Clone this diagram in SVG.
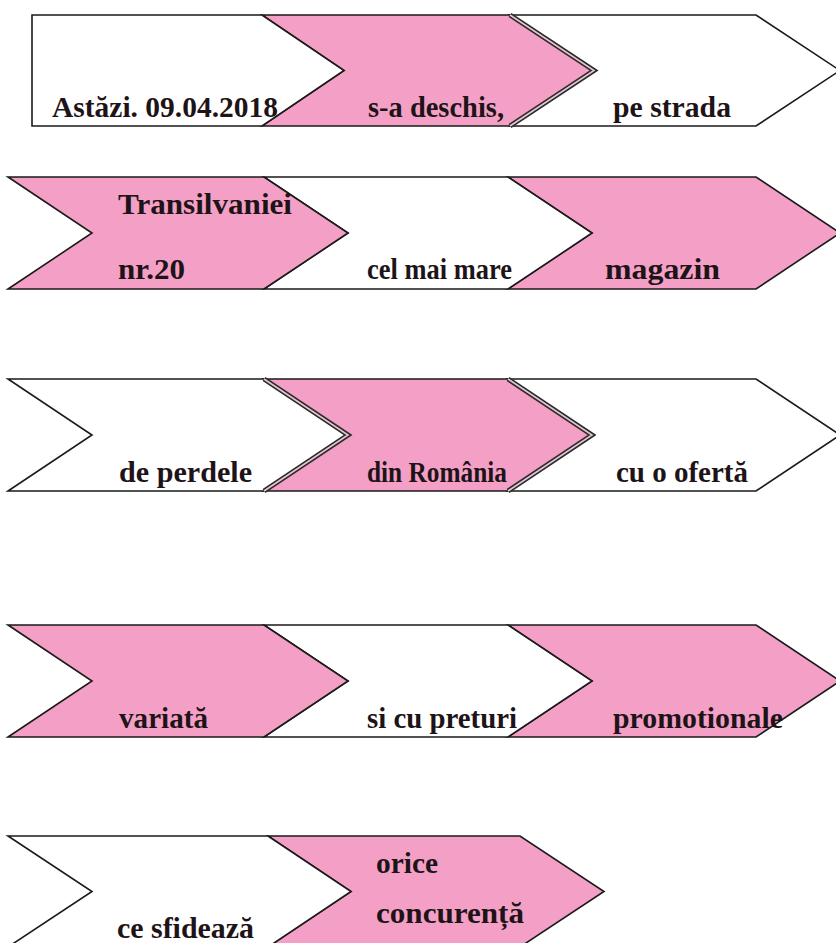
<svg xmlns="http://www.w3.org/2000/svg" width="836" height="943" viewBox="0 0 836 943">
<style>
.w{fill:#ffffff;stroke:#1a1a1a;stroke-width:1.6;stroke-linejoin:miter}
.p{fill:#F4A0C6;stroke:#1a1a1a;stroke-width:1.6;stroke-linejoin:miter}
.dbl{fill:none;stroke:#2a2a2a;stroke-width:5}
.dbl2{fill:none;stroke:#e6c6d4;stroke-width:1.6}
text{font-family:"Liberation Serif","Times New Roman",serif;font-weight:bold;font-size:30px;fill:#1e1418}
</style>
<rect width="836" height="943" fill="#ffffff"/>
<g id="connectors"/>
<!-- Row 1 -->
<g id="r1c3"><polygon class="w" points="510,15 756,15 840,70.5 756,126 510,126 594,70.5"/><text x="613" y="117" textLength="118" lengthAdjust="spacingAndGlyphs">pe strada</text></g>
<g id="r1c2"><polygon class="p" points="262,15 510,15 594,70.5 510,126 262,126 344,70.5"/><polyline class="dbl" points="510,15 594,70.5 510,126"/><polyline class="dbl2" points="510,15 594,70.5 510,126"/><text x="368" y="117" textLength="136" lengthAdjust="spacingAndGlyphs">s-a deschis,</text></g>
<g id="r1c1"><polygon class="w" points="32,15 262,15 344,70.5 262,126 32,126"/><text x="52" y="117" textLength="226" lengthAdjust="spacingAndGlyphs">Astăzi. 09.04.2018</text></g>
<!-- Row 2 -->
<g id="r2c3"><polygon class="p" points="508,177 756,177 840,233 756,289 508,289 592,233"/><text x="605" y="279" textLength="115" lengthAdjust="spacingAndGlyphs">magazin</text></g>
<g id="r2c2"><polygon class="w" points="264,177 508,177 592,233 508,289 264,289 348,233"/><text x="367" y="279" textLength="145" lengthAdjust="spacingAndGlyphs">cel mai mare</text></g>
<g id="r2c1"><polygon class="p" points="8,177 264,177 348,233 264,289 8,289 92,233"/><text x="118" y="214" textLength="174" lengthAdjust="spacingAndGlyphs">Transilvaniei</text><text x="118" y="279" textLength="67" lengthAdjust="spacingAndGlyphs">nr.20</text></g>
<!-- Row 3 -->
<g id="r3c3"><polygon class="w" points="508,379 756,379 840,435 756,491 508,491 592,435"/><text x="616" y="482" textLength="132" lengthAdjust="spacingAndGlyphs">cu o ofertă</text></g>
<g id="r3c1"><polygon class="w" points="8,379 264,379 348,435 264,491 8,491 92,435"/><text x="119" y="482" textLength="133" lengthAdjust="spacingAndGlyphs">de perdele</text></g>
<g id="r3c2"><polygon class="p" points="264,379 508,379 592,435 508,491 264,491 348,435"/><polyline class="dbl" points="264,379 348,435 264,491"/><polyline class="dbl2" points="264,379 348,435 264,491"/><polyline class="dbl" points="508,379 592,435 508,491"/><polyline class="dbl2" points="508,379 592,435 508,491"/><text x="367" y="482" textLength="140" lengthAdjust="spacingAndGlyphs">din România</text></g>
<!-- Row 4 -->
<g id="r4c3"><polygon class="p" points="508,625 756,625 840,681 756,737 508,737 592,681"/><text x="613" y="728" textLength="170" lengthAdjust="spacingAndGlyphs">promotionale</text></g>
<g id="r4c2"><polygon class="w" points="264,625 508,625 592,681 508,737 264,737 348,681"/><text x="367" y="728" textLength="150" lengthAdjust="spacingAndGlyphs">si cu preturi</text></g>
<g id="r4c1"><polygon class="p" points="8,625 264,625 348,681 264,737 8,737 92,681"/><text x="119" y="728" textLength="89" lengthAdjust="spacingAndGlyphs">variată</text></g>
<!-- Row 5 -->
<g id="r5c2"><polygon class="p" points="268,836 520,836 604,891.5 520,947 268,947 351,891.5"/><text x="376" y="873" textLength="62" lengthAdjust="spacingAndGlyphs">orice</text><text x="376" y="923" textLength="148" lengthAdjust="spacingAndGlyphs">concurență</text></g>
<g id="r5c1"><polygon class="w" points="8,836 268,836 351,891.5 268,947 8,947 92,891.5"/><text x="117" y="938" textLength="137" lengthAdjust="spacingAndGlyphs">ce sfidează</text></g>
</svg>
